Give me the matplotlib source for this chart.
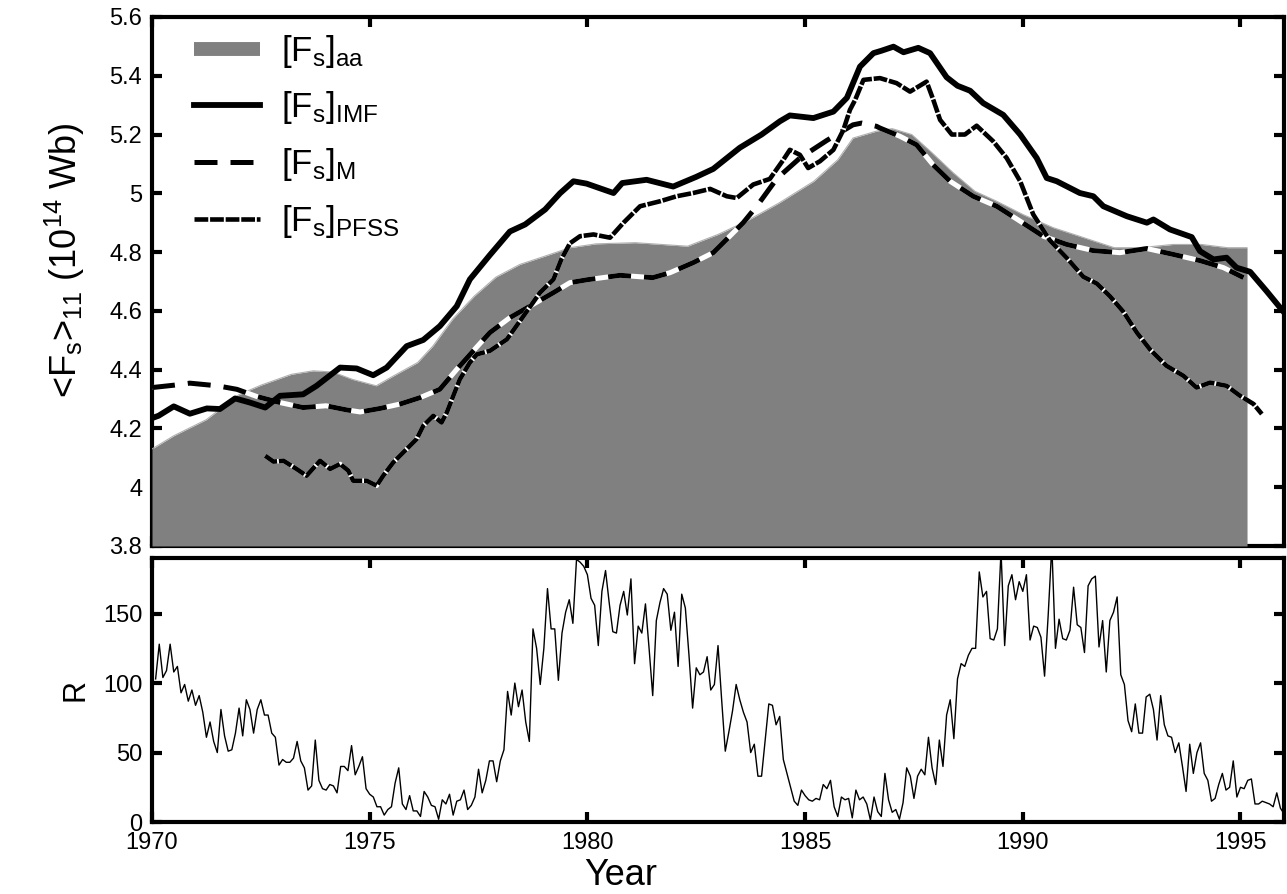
import numpy as np
import matplotlib
matplotlib.use('Agg')
import matplotlib.pyplot as plt
from matplotlib.lines import Line2D
from matplotlib.ticker import FuncFormatter

plt.rcParams['font.family'] = ['Liberation Sans', 'DejaVu Sans']
plt.rcParams['mathtext.default'] = 'regular'

# [Fs]_aa (grey area)
aa_year = [1970.0, 1970.5, 1971.25, 1972.0, 1972.5, 1973.2, 1973.7, 1974.15, 1974.6, 1975.15,
           1975.55, 1976.1, 1976.45, 1976.9, 1977.4, 1977.9, 1978.45, 1979.0, 1979.6, 1980.2,
           1981.1, 1982.3, 1983.0, 1983.65, 1984.4, 1985.2, 1985.75, 1986.1, 1986.65, 1987.0,
           1987.45, 1987.9, 1988.4, 1988.9, 1989.4, 1990.0, 1990.7, 1991.3, 1992.1, 1992.7,
           1993.45, 1994.1, 1994.7, 1995.15]
aa_val = [4.13, 4.175, 4.23, 4.315, 4.347, 4.384, 4.396, 4.392, 4.367, 4.345,
          4.379, 4.424, 4.48, 4.571, 4.65, 4.715, 4.758, 4.785, 4.815, 4.828,
          4.832, 4.82, 4.86, 4.905, 4.967, 5.041, 5.114, 5.188, 5.212, 5.22,
          5.2, 5.14, 5.07, 5.007, 4.973, 4.928, 4.883, 4.854, 4.815, 4.815,
          4.826, 4.826, 4.815, 4.815]

# [Fs]_IMF
imf_year = [1970.0, 1970.15, 1970.5, 1970.87, 1971.26, 1971.56, 1971.91, 1972.25, 1972.6, 1972.94,
            1973.47, 1973.78, 1974.32, 1974.7, 1975.08, 1975.39, 1975.85, 1976.23, 1976.61, 1977.0,
            1977.3, 1977.76, 1978.22, 1978.57, 1979.03, 1979.37, 1979.68, 1979.98, 1980.6, 1980.8,
            1981.36, 1981.97, 1982.5, 1982.89, 1983.5, 1984.0, 1984.42, 1984.65, 1985.19, 1985.65,
            1985.96, 1986.26, 1986.57, 1986.75, 1987.03, 1987.26, 1987.6, 1987.87, 1988.25, 1988.5,
            1988.79, 1989.09, 1989.55, 1989.94, 1990.32, 1990.55, 1990.78, 1991.31, 1991.62, 1991.85,
            1992.39, 1992.85, 1993.0, 1993.38, 1993.88, 1994.07, 1994.38, 1994.68, 1994.91, 1995.22,
            1995.6, 1995.91, 1996.0]
imf_val = [4.235, 4.243, 4.275, 4.25, 4.268, 4.266, 4.302, 4.288, 4.271, 4.311,
           4.316, 4.345, 4.407, 4.404, 4.381, 4.407, 4.48, 4.501, 4.548, 4.616,
           4.707, 4.79, 4.87, 4.894, 4.945, 5.0, 5.041, 5.033, 5.001, 5.035,
           5.046, 5.023, 5.056, 5.083, 5.155, 5.2, 5.245, 5.265, 5.256, 5.278,
           5.325, 5.431, 5.477, 5.485, 5.499, 5.48, 5.495, 5.477, 5.395, 5.366,
           5.349, 5.307, 5.267, 5.2, 5.12, 5.052, 5.041, 5.001, 4.99, 4.956,
           4.922, 4.9, 4.911, 4.877, 4.851, 4.803, 4.775, 4.781, 4.747, 4.733,
           4.667, 4.611, 4.595]

# [Fs]_M
m_year = [1970.0, 1970.5, 1970.87, 1971.5, 1971.95, 1972.4, 1972.94, 1973.47, 1974.0, 1974.47,
          1974.78, 1975.24, 1975.7, 1976.16, 1976.61, 1977.0, 1977.38, 1977.76, 1978.22, 1978.68,
          1979.22, 1979.6, 1980.0, 1980.75, 1981.5, 1981.9, 1982.43, 1982.89, 1983.27, 1983.58,
          1983.92, 1984.35, 1984.88, 1985.5, 1986.1, 1986.3, 1986.64, 1986.72, 1987.18, 1987.56,
          1987.94, 1988.33, 1988.86, 1989.4, 1989.94, 1990.47, 1991.01, 1991.62, 1992.23, 1992.85,
          1993.46, 1994.07, 1994.61, 1995.07]
m_val = [4.339, 4.347, 4.354, 4.345, 4.333, 4.309, 4.288, 4.271, 4.277, 4.263,
         4.256, 4.268, 4.283, 4.305, 4.333, 4.401, 4.464, 4.526, 4.577, 4.616,
         4.662, 4.696, 4.706, 4.721, 4.713, 4.73, 4.764, 4.798, 4.854, 4.9,
         4.962, 5.05, 5.12, 5.18, 5.233, 5.239, 5.228, 5.222, 5.194, 5.165,
         5.097, 5.041, 4.99, 4.956, 4.905, 4.854, 4.826, 4.805, 4.798, 4.812,
         4.792, 4.771, 4.747, 4.713]

# [Fs]_PFSS
pfss_year = [1972.6, 1972.79, 1973.02, 1973.32, 1973.55, 1973.86, 1974.09, 1974.32, 1974.51, 1974.62,
             1974.93, 1975.16, 1975.31, 1975.54, 1975.85, 1976.08, 1976.23, 1976.46, 1976.65, 1976.77,
             1976.92, 1977.07, 1977.3, 1977.46, 1977.76, 1978.15, 1978.53, 1978.91, 1979.22, 1979.4,
             1979.6, 1979.83, 1980.14, 1980.52, 1980.83, 1981.21, 1981.67, 1982.05, 1982.43, 1982.82,
             1983.2, 1983.43, 1983.81, 1984.19, 1984.5, 1984.65, 1984.88, 1985.07, 1985.34, 1985.65,
             1985.88, 1986.03, 1986.15, 1986.34, 1986.72, 1987.1, 1987.41, 1987.79, 1987.94, 1988.1,
             1988.37, 1988.67, 1988.94, 1989.32, 1989.63, 1989.94, 1990.24, 1990.62, 1991.01, 1991.39,
             1991.7, 1992.0, 1992.31, 1992.62, 1992.92, 1993.3, 1993.69, 1993.99, 1994.3, 1994.68,
             1994.99, 1995.3, 1995.49]
pfss_val = [4.107, 4.087, 4.09, 4.062, 4.039, 4.09, 4.062, 4.079, 4.056, 4.022,
            4.022, 4.005, 4.039, 4.084, 4.13, 4.164, 4.209, 4.243, 4.22, 4.254,
            4.311, 4.367, 4.424, 4.452, 4.464, 4.503, 4.582, 4.662, 4.707, 4.775,
            4.83, 4.854, 4.86, 4.849, 4.9, 4.956, 4.973, 4.99, 5.001, 5.015,
            4.99, 4.984, 5.03, 5.049, 5.114, 5.148, 5.131, 5.086, 5.109, 5.148,
            5.216, 5.284, 5.318, 5.386, 5.392, 5.375, 5.346, 5.38, 5.32, 5.25,
            5.2, 5.2, 5.23, 5.177, 5.12, 5.041, 4.928, 4.84, 4.78, 4.716,
            4.693, 4.65, 4.597, 4.526, 4.469, 4.413, 4.379, 4.339, 4.356, 4.345,
            4.311, 4.283, 4.249]

# monthly sunspot number, Jan 1970 - Dec 1995
r_val = [103, 128, 104, 109, 128, 108, 112, 93, 99, 87, 95, 84,
         91, 79, 61, 72, 58, 50, 81, 62, 51, 52, 64, 82,
         62, 88, 81, 64, 81, 88, 77, 77, 64, 61, 41, 45,
         43, 43, 46, 58, 44, 39, 23, 26, 59, 30, 24, 23,
         27, 26, 21, 40, 40, 37, 55, 34, 40, 47, 24, 20,
         18, 11, 11, 5, 9, 11, 28, 39, 13, 9, 19, 8,
         8, 4, 22, 18, 12, 11, 2, 16, 13, 20, 5, 15,
         16, 23, 9, 12, 18, 38, 21, 30, 44, 44, 29, 44,
         52, 94, 77, 100, 83, 95, 72, 58, 139, 125, 99, 125,
         168, 139, 139, 102, 136, 151, 160, 143, 189, 187, 184, 178,
         161, 156, 127, 166, 181, 158, 137, 136, 156, 166, 149, 175,
         114, 141, 136, 157, 125, 91, 145, 158, 168, 164, 138, 151,
         112, 164, 154, 120, 82, 111, 106, 108, 119, 95, 99, 127,
         88, 51, 65, 80, 99, 88, 79, 72, 50, 56, 33, 33,
         59, 85, 84, 70, 76, 45, 35, 25, 15, 12, 23, 19,
         16, 15, 17, 16, 27, 24, 30, 11, 4, 18, 16, 17,
         3, 23, 16, 18, 13, 1.5, 18, 7.5, 4, 35, 16, 7,
         9, 2, 14, 39, 33, 17, 33, 38, 34, 61, 39, 27,
         59, 40, 77, 88, 60, 103, 114, 112, 120, 125, 125, 180,
         162, 166, 132, 131, 139, 195, 127, 170, 178, 160, 173, 166,
         178, 131, 141, 140, 133, 105, 149, 199, 125, 146, 132, 131,
         138, 169, 142, 140, 122, 170, 175, 177, 126, 145, 108, 145,
         151, 162, 106, 99, 73, 65, 85, 64, 64, 90, 92, 81,
         59, 91, 70, 62, 61, 50, 57, 40, 22, 56, 35, 50,
         57, 35, 30, 15, 17, 27, 35, 23, 25, 44, 18, 25,
         24, 30, 31, 13, 13, 15, 14, 13, 11, 21, 10, 6]
r_year = 1970 + (np.arange(len(r_val)) + 1) / 12.0

years = [1970, 1975, 1980, 1985, 1990, 1995]

fig = plt.figure(figsize=(12.87, 8.94), dpi=100)
ax1 = fig.add_axes([0.1181, 0.3893, 0.8796, 0.5917])
ax2 = fig.add_axes([0.1181, 0.0805, 0.8796, 0.2953])

# top panel
ax1.fill_between(aa_year, 3.8, aa_val, color='#808080', lw=0, zorder=3)
ax1.plot(aa_year, aa_val, color='#b0b0b0', lw=0.8, zorder=3.05)

ax1.plot(m_year, m_val, color='white', lw=3.6, zorder=4, solid_capstyle='butt')
l_m, = ax1.plot(m_year, m_val, color='black', lw=3.6, dashes=(4.6, 2.6),
                dash_capstyle='butt', zorder=4.1)
ax1.plot(pfss_year, pfss_val, color='white', lw=3.3, zorder=4.2, solid_capstyle='butt')
l_p, = ax1.plot(pfss_year, pfss_val, color='black', lw=3.3, dashes=(3.0, 0.4),
                dash_capstyle='butt', zorder=4.3)
l_imf, = ax1.plot(imf_year, imf_val, color='black', lw=4.2, zorder=5,
                  solid_joinstyle='round')

h_aa = Line2D([], [], color='#808080', lw=10, solid_capstyle='butt')
ax1.legend([h_aa, l_imf, l_m, l_p],
           [r'[F$_s$]$_{aa}$', r'[F$_s$]$_{IMF}$', r'[F$_s$]$_M$', r'[F$_s$]$_{PFSS}$'],
           loc='upper left', bbox_to_anchor=(0.028, 0.99), borderaxespad=0, frameon=False,
           fontsize=25, handlelength=1.9, handletextpad=0.6, labelspacing=0.57, borderpad=0.3)

ax1.set_xlim(1970, 1996)
ax1.set_ylim(3.8, 5.6)
ax1.set_xticks(years)
ax1.set_yticks([3.8, 4.0, 4.2, 4.4, 4.6, 4.8, 5.0, 5.2, 5.4, 5.6])
ax1.yaxis.set_major_formatter(FuncFormatter(lambda v, p: '%g' % round(v, 2)))
ax1.tick_params(labelbottom=False)
ax1.set_ylabel(r'<F$_s$>$_{11}$ (10$^{14}$ Wb)', fontsize=26)
ax1.yaxis.set_label_coords(-0.0575, 0.54)

# bottom panel
ax2.plot(r_year, r_val, color='black', lw=1.0)
ax2.set_xlim(1970, 1996)
ax2.set_ylim(0, 190)
ax2.set_xticks(years)
ax2.set_yticks([0, 50, 100, 150])
ax2.set_xlabel('Year', fontsize=26)
ax2.set_ylabel('R', fontsize=22)
ax2.xaxis.set_label_coords(0.414, -0.137)
ax2.yaxis.set_label_coords(-0.054, 0.5)

for ax in (ax1, ax2):
    ax.tick_params(direction='in', length=7, width=3, top=True, right=True,
                   labelsize=17, pad=7)
    for s in ax.spines.values():
        s.set_linewidth(3)

fig.savefig('out.png', dpi=100)
